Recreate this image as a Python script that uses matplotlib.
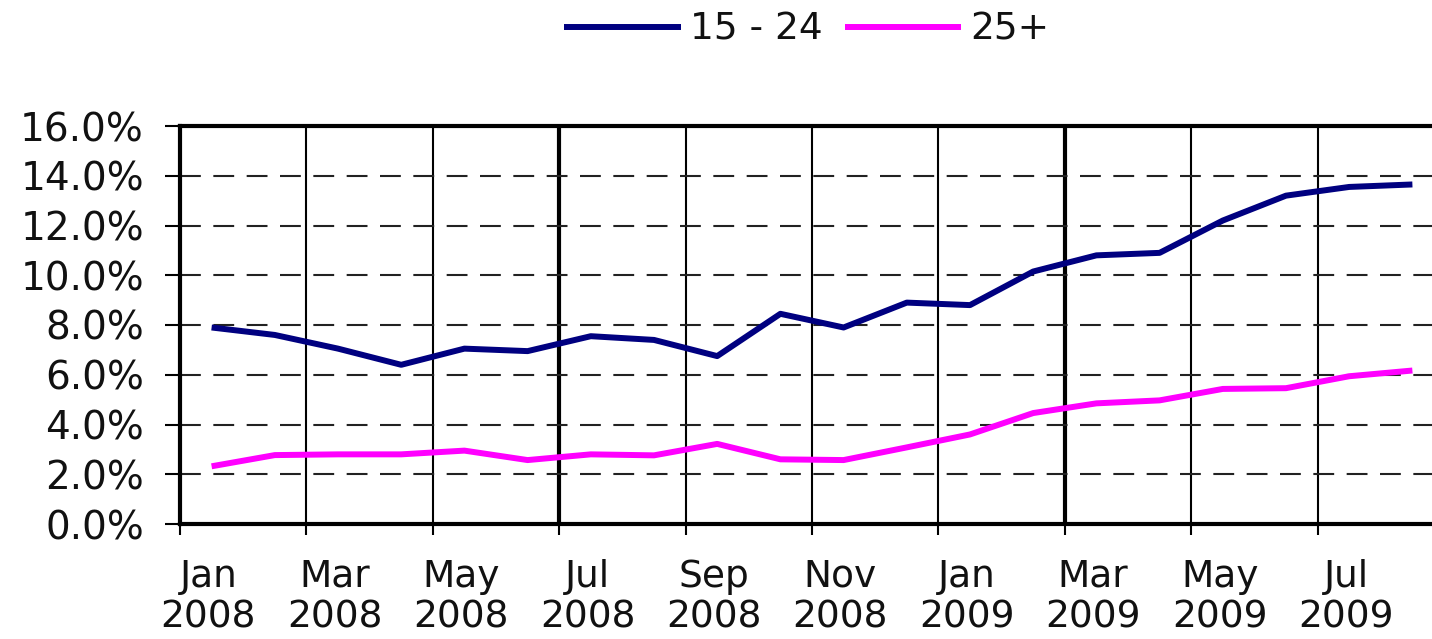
import matplotlib.pyplot as plt
import numpy as np

# months since Jan 2008, values plotted mid-month
months = np.arange(20) + 0.5
youth = [7.9, 7.6, 7.05, 6.4, 7.05, 6.95, 7.55, 7.4, 6.75, 8.45,
         7.9, 8.9, 8.8, 10.15, 10.8, 10.9, 12.2, 13.2, 13.55, 13.65]
adult = [2.32, 2.77, 2.8, 2.8, 2.95, 2.57, 2.8, 2.76, 3.22, 2.6,
         2.57, 3.08, 3.6, 4.46, 4.85, 4.97, 5.43, 5.46, 5.94, 6.17]
tick_labels = ['Jan\n2008', 'Mar\n2008', 'May\n2008', 'Jul\n2008', 'Sep\n2008',
               'Nov\n2008', 'Jan\n2009', 'Mar\n2009', 'May\n2009', 'Jul\n2009']
series_names = ['15 - 24', '25+']

plt.rcParams['font.family'] = ['DejaVu Sans']

W, H = 1432, 639
fig = plt.figure(figsize=(W / 100, H / 100), dpi=100)
px_month = 63.2
left, bottom, top = 180, 524, 126
ax = fig.add_axes([left / W, (H - bottom) / H, 20 * px_month / W, (bottom - top) / H])

ax.set_xlim(0, 20)
ax.set_ylim(0, 16)

xt = np.arange(0, 20, 2)
for x in xt[1:]:
    lw = 3.0 if x in (6, 14) else 1.5
    ax.axvline(x, color='black', lw=lw, zorder=1)
for y in np.arange(2, 16, 2):
    ax.axhline(y, color='#222222', lw=1.5, dashes=(10, 6), zorder=1)

ax.plot(months, youth, color='#000080', lw=4.3, label=series_names[0], zorder=3,
        solid_capstyle='butt', solid_joinstyle='round')
ax.plot(months, adult, color='#FF00FF', lw=4.3, label=series_names[1], zorder=3,
        solid_capstyle='butt', solid_joinstyle='round')

# tick marks on month boundaries, labels centred on the month
ax.set_xticks(xt)
ax.set_xticklabels([])
ax.set_xticks(xt + 0.45, minor=True)
ax.set_xticklabels(tick_labels, minor=True, fontsize=27, linespacing=1.17,
                   color='#111111')
ax.set_yticks(np.arange(0, 17, 2))
ax.set_yticklabels([f'{v:.1f}%' for v in np.arange(0, 17, 2)], fontsize=28,
                   color='#111111')
ax.tick_params(axis='x', which='major', length=8, width=1.5, color='black')
ax.tick_params(axis='x', which='minor', length=0, pad=25)
ax.tick_params(axis='y', length=11, width=1.5, pad=15, color='black')

for s in ('left', 'bottom', 'top'):
    ax.spines[s].set_linewidth(3.0)
ax.spines['right'].set_visible(False)

leg = ax.legend(loc='center', bbox_to_anchor=(807 / W, 1 - 30 / H),
                bbox_transform=fig.transFigure, ncol=2, frameon=False,
                fontsize=27, handlelength=3.1, handletextpad=0.25,
                columnspacing=0.6)
for t in leg.get_texts():
    t.set_color('#111111')

fig.savefig('out.png', dpi=100)
